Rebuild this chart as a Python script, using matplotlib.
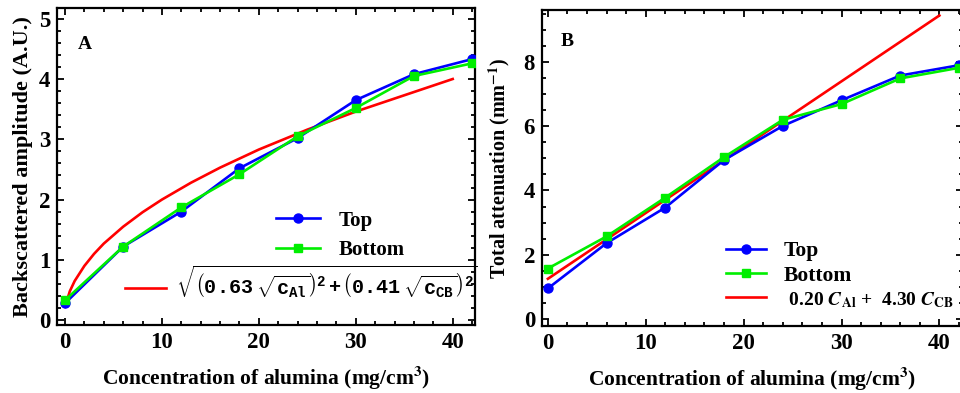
import matplotlib
matplotlib.use('Agg')
import matplotlib.pyplot as plt
from matplotlib.ticker import MultipleLocator
from matplotlib.lines import Line2D

# data
conc = [0, 6, 12, 18, 24, 30, 36, 42]
amp_top = [0.28, 1.22, 1.80, 2.52, 3.02, 3.65, 4.08, 4.33]
amp_bottom = [0.33, 1.22, 1.87, 2.42, 3.05, 3.52, 4.05, 4.26]
fit_a_x = [0, 0.5, 1, 2, 3, 4, 6, 8, 10, 13, 16, 20, 25, 30, 35, 40]
fit_a_y = [0.22, 0.48, 0.65, 0.90, 1.10, 1.27, 1.55, 1.79, 2.00, 2.28, 2.53, 2.83, 3.16, 3.46, 3.73, 4.00]

att_top = [0.95, 2.36, 3.47, 4.95, 6.01, 6.81, 7.58, 7.90]
att_bottom = [1.57, 2.57, 3.78, 5.04, 6.20, 6.69, 7.49, 7.82]
fit_b_x = [0, 40]
fit_b_y = [1.25, 9.45]

plt.rcParams['font.family'] = 'Liberation Serif'
plt.rcParams['font.weight'] = 'bold'
plt.rcParams['axes.labelweight'] = 'bold'
plt.rcParams['mathtext.fontset'] = 'custom'
plt.rcParams['mathtext.rm'] = 'Liberation Mono:bold'
plt.rcParams['mathtext.it'] = 'Liberation Mono:bold'
plt.rcParams['mathtext.bf'] = 'Liberation Mono:bold'

fig = plt.figure(figsize=(9.6, 3.93), dpi=100)
ax1 = fig.add_axes([0.0594, 0.173, 0.4354, 0.807])
ax2 = fig.add_axes([0.5646, 0.1705, 0.4384, 0.804])

lw = 1.9


def style(ax):
    for s in ax.spines.values():
        s.set_linewidth(1.6)
    ax.tick_params(which='both', direction='in', top=True, right=True, width=1.3)
    ax.tick_params(which='major', length=5, labelsize=16.5, pad=5)
    ax.tick_params(which='minor', length=3)
    ax.set_xlabel('Concentration of alumina (mg/cm$^3$)', fontsize=15.5, labelpad=8)
    ax.xaxis.label.set_math_fontfamily('stix')
    for t in ax.get_xticklabels() + ax.get_yticklabels():
        t.set_fontweight('bold')


# ---- panel A
ax1.plot(conc, amp_top, '-o', color='blue', lw=lw, ms=6.5, zorder=3)
ax1.plot(conc, amp_bottom, '-s', color='#00ee00', lw=lw, ms=5.5, zorder=4)
ax1.plot(fit_a_x, fit_a_y, '-', color='red', lw=lw, zorder=2)
ax1.set_xlim(-0.82, 42.3)
ax1.set_ylim(-0.08, 5.18)
ax1.xaxis.set_major_locator(MultipleLocator(10))
ax1.xaxis.set_minor_locator(MultipleLocator(2))
ax1.yaxis.set_major_locator(MultipleLocator(1))
ax1.yaxis.set_minor_locator(MultipleLocator(0.2))
style(ax1)
ax1.set_ylabel('Backscattered amplitude (A.U.)', fontsize=16, labelpad=4)
ax1.text(0.05, 0.87, 'A', transform=ax1.transAxes, fontsize=14, fontweight='bold')

h_top = Line2D([], [], color='blue', marker='o', lw=lw, ms=6.5)
h_bot = Line2D([], [], color='#00ee00', marker='s', lw=lw, ms=5.5)
h_fit = Line2D([], [], color='red', lw=lw)
leg1 = ax1.legend([h_top, h_bot], ['Top', 'Bottom'], loc='upper left',
                  bbox_to_anchor=(0.48, 0.42), frameon=False, fontsize=15,
                  handlelength=2.1, labelspacing=0.45, handletextpad=0.9)
ax1.add_artist(leg1)
ax1.legend([h_fit],
           [r'$\sqrt{\left(0.63\ \sqrt{c_{Al}}\right)^2+\left(0.41\ \sqrt{c_{CB}}\right)^2}$'],
           loc='upper left', bbox_to_anchor=(0.12, 0.25), frameon=False,
           fontsize=14.5, handlelength=2.0, handletextpad=0.5)

# ---- panel B
ax2.plot(conc, att_top, '-o', color='blue', lw=lw, ms=6.5, zorder=3)
ax2.plot(conc, att_bottom, '-s', color='#00ee00', lw=lw, ms=5.5, zorder=4)
ax2.plot(fit_b_x, fit_b_y, '-', color='red', lw=lw, zorder=2)
ax2.set_xlim(-0.6, 42.4)
ax2.set_ylim(-0.22, 9.62)
ax2.xaxis.set_major_locator(MultipleLocator(10))
ax2.xaxis.set_minor_locator(MultipleLocator(2))
ax2.yaxis.set_major_locator(MultipleLocator(2))
ax2.yaxis.set_minor_locator(MultipleLocator(0.5))
style(ax2)
ax2.set_ylabel('Total attenuation (mm$^{-1}$)', fontsize=14.5, labelpad=8)
ax2.yaxis.label.set_math_fontfamily('stix')
ax2.text(0.045, 0.885, 'B', transform=ax2.transAxes, fontsize=14, fontweight='bold')
leg2 = ax2.legend([h_top, h_bot, h_fit],
                  ['Top', 'Bottom', r' 0.20 $\boldsymbol{C}_{\mathbf{Al}}$ +  4.30 $\boldsymbol{C}_{\mathbf{CB}}$'],
                  loc='upper left', bbox_to_anchor=(0.39, 0.33), frameon=False,
                  fontsize=15.5, handlelength=1.9, labelspacing=0.2, handletextpad=0.8)
for t in leg2.get_texts():
    t.set_math_fontfamily('stix')
leg2.get_texts()[2].set_fontsize(14)

fig.savefig('out.png', dpi=100)
